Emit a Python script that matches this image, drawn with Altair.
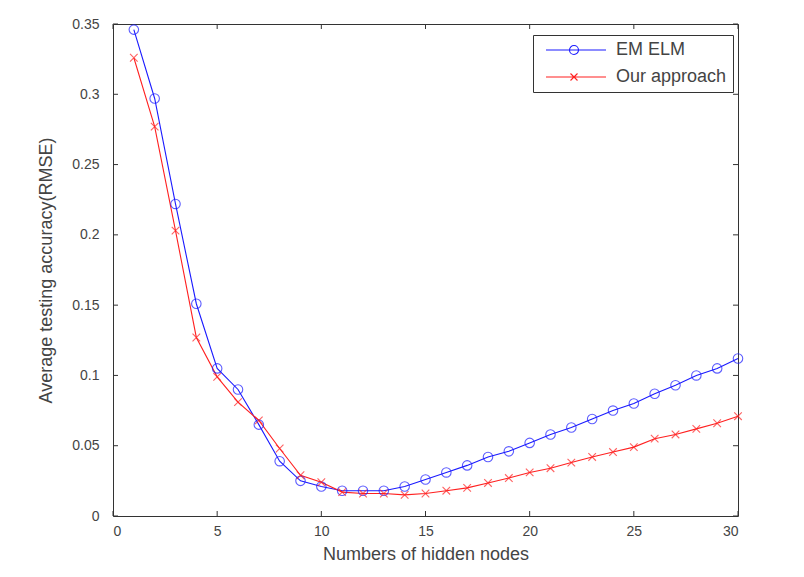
import altair as alt
import pandas as pd

# ---- data ----
hidden_nodes = list(range(1, 31))
em_elm = [0.346, 0.297, 0.222, 0.151, 0.105, 0.090, 0.065, 0.039, 0.025, 0.021,
          0.018, 0.018, 0.018, 0.021, 0.026, 0.031, 0.036, 0.042, 0.046, 0.052,
          0.058, 0.063, 0.069, 0.075, 0.080, 0.087, 0.093, 0.100, 0.105, 0.112]
our_approach = [0.326, 0.277, 0.203, 0.127, 0.099, 0.081, 0.068, 0.048, 0.029, 0.024,
                0.017, 0.016, 0.016, 0.015, 0.016, 0.018, 0.020, 0.0235, 0.027, 0.031,
                0.034, 0.038, 0.042, 0.0455, 0.049, 0.055, 0.058, 0.062, 0.066, 0.071]
series_names = ["EM ELM", "Our approach"]
x_ticks = [0, 5, 10, 15, 20, 25, 30]
y_ticks = [0, 0.05, 0.1, 0.15, 0.2, 0.25, 0.3, 0.35]

rows = []
for name, vals in zip(series_names, [em_elm, our_approach]):
    for x, v in zip(hidden_nodes, vals):
        rows.append({"nodes": x, "rmse": v, "series": name, "pt_key": name + "_pt"})
df = pd.DataFrame(rows)
xt = pd.DataFrame({"nodes": x_ticks})
yt = pd.DataFrame({"rmse": y_ticks})

W, H = 625, 492
FONT = "Liberation Sans"
TXT = "#444444"
BLUE, RED = "#1a1aff", "#ff2020"

xscale = alt.Scale(domain=[0, 30], nice=False, zero=False)
yscale = alt.Scale(domain=[0, 0.35], nice=False, zero=False)

all_keys = series_names + [n + "_pt" for n in series_names]
CIRCLE = "M1,0A1,1,0,1,1,-1,0A1,1,0,1,1,1,0"
XMARK = "M-0.8,-0.8L0.8,0.8M-0.8,0.8L0.8,-0.8"
LEG_CIRCLE = "M-0.4,0L11.6,0M6.1,0A0.9,0.9,0,1,1,4.3,0A0.9,0.9,0,1,1,6.1,0"
LEG_X = "M-0.4,0L11.6,0M4.5,-0.7L5.9,0.7M4.5,0.7L5.9,-0.7"
colors = alt.Scale(domain=all_keys, range=[BLUE, RED, BLUE, RED])
shapes = alt.Scale(domain=all_keys, range=[LEG_CIRCLE, LEG_X, CIRCLE, XMARK])

legend = alt.Legend(
    title=None, orient="none", legendX=420, legendY=11, values=series_names,
    fillColor="white", strokeColor="#333333", padding=6,
    labelFont=FONT, labelFontSize=18, labelColor=TXT, labelOffset=59,
    rowPadding=9, symbolSize=100, symbolStrokeWidth=1.1, symbolOpacity=1,
)

x_axis = alt.Axis(values=x_ticks, ticks=False, domain=False, grid=False,
                  labelPadding=8, title="Numbers of hidden nodes", titlePadding=7)
y_axis = alt.Axis(values=y_ticks, ticks=False, domain=False, grid=False, format="~g",
                  labelPadding=14, title="Average testing accuracy(RMSE)", titlePadding=16)

X = alt.X("nodes:Q", scale=xscale, axis=x_axis)
Y = alt.Y("rmse:Q", scale=yscale, axis=y_axis)

base = alt.Chart(df)
lines = base.mark_line(strokeWidth=1.1).encode(
    x=X, y=Y,
    color=alt.Color("series:N", scale=colors, legend=legend),
)
points = base.mark_point(filled=False, size=90, strokeWidth=1.1).encode(
    x=X, y=Y,
    color=alt.Color("series:N", scale=colors, legend=legend),
    shape=alt.Shape("pt_key:N", scale=shapes, legend=legend),
)
legend_layer = base.mark_point(filled=False, opacity=0).encode(
    x=X, y=Y,
    color=alt.Color("series:N", scale=colors, legend=legend),
    shape=alt.Shape("series:N", scale=shapes, legend=legend),
)

tick_col = "#333333"
bt = alt.Chart(xt).mark_rule(color=tick_col).encode(x=X, y=alt.value(H), y2=alt.value(H - 5))
tt = alt.Chart(xt).mark_rule(color=tick_col).encode(x=X, y=alt.value(0), y2=alt.value(5))
lt = alt.Chart(yt).mark_rule(color=tick_col).encode(y=Y, x=alt.value(0), x2=alt.value(5))
rt = alt.Chart(yt).mark_rule(color=tick_col).encode(y=Y, x=alt.value(W), x2=alt.value(W - 5))

chart = alt.layer(lines, points, legend_layer, bt, tt, lt, rt).properties(
    width=W, height=H,
    background="white",
    autosize=alt.AutoSizeParams(type="none"),
    padding={"left": 105, "top": 16, "right": 50, "bottom": 50},
).configure_view(stroke="#333333", strokeWidth=1).configure_axis(
    labelFont=FONT, labelFontSize=14, labelColor=TXT,
    titleFont=FONT, titleFontSize=18, titleColor=TXT, titleFontWeight="normal",
)

chart.save("out.html", embed_options={"renderer": "svg", "actions": False})
